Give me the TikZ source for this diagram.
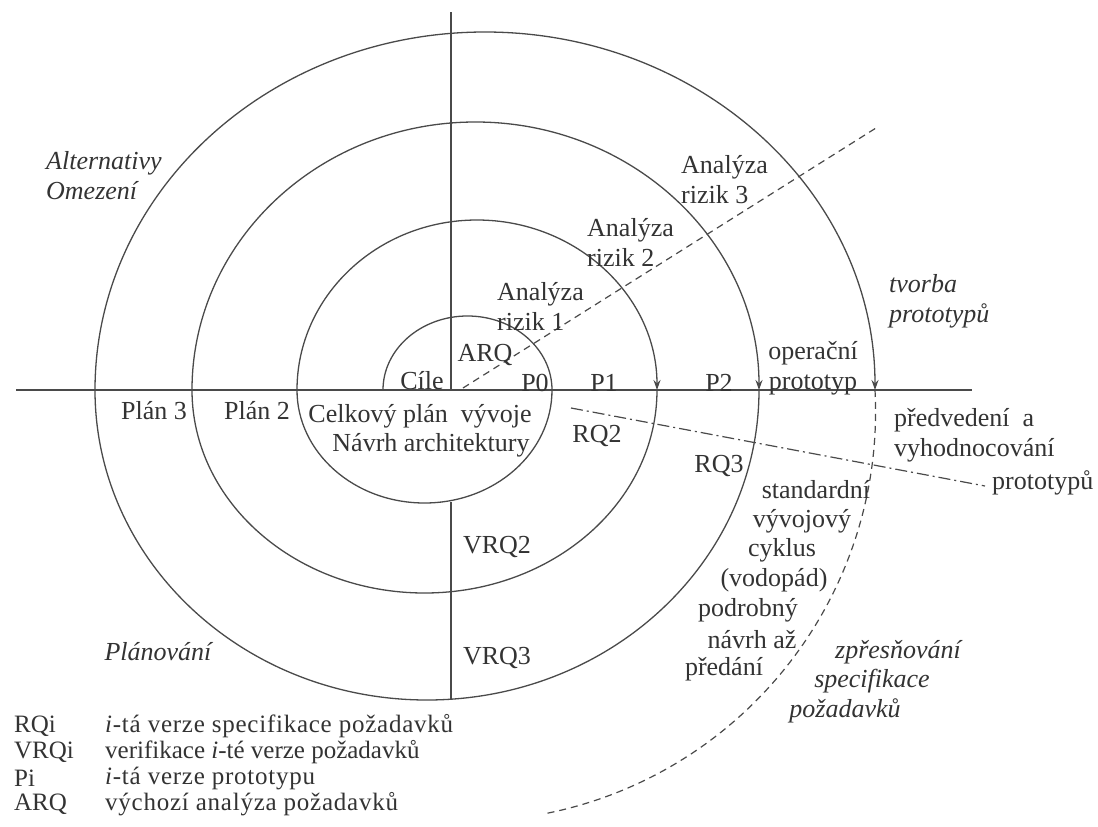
\documentclass[tikz,border=0pt]{standalone}
\usepackage{fontspec}
\setmainfont{Liberation Serif}
\usetikzlibrary{arrows.meta}
\definecolor{ink}{HTML}{333333}
\definecolor{ln}{HTML}{4A4A4A}
\begin{document}
\begin{tikzpicture}[x=1pt,y=1pt,
  lbl/.style={text=ink, font=\fontsize{26}{30}\selectfont, inner sep=0pt},
  ilbl/.style={text=ink, font=\fontsize{26}{30}\selectfont\itshape, inner sep=0pt},
  leg/.style={text=ink, font=\fontsize{25}{27}\selectfont, inner sep=0pt, anchor=west},
  curve/.style={draw=ln, line width=1.3pt},
  tip/.style={-{Stealth[length=10pt,width=7pt]}},
  dashline/.style={draw=ln, line width=1.2pt, dash pattern=on 7pt off 5pt},
  dotline/.style={draw=ln, line width=1.2pt, dash pattern=on 12pt off 4pt on 2pt off 4pt}
]
\useasboundingbox[fill=white] (0,0) rectangle (1098,-827);

% axes
\coordinate (hl) at (16,-390);
\coordinate (hr) at (972,-390);
\coordinate (vt) at (451,-12);
\coordinate (vo) at (451,-390);
\coordinate (vb1) at (451,-502);
\coordinate (vb2) at (451,-700);
\draw[curve] (hl) -- (hr);
\draw[curve] (vt) -- (vo);
\draw[curve] (vb1) -- (vb2);

% spiral
\draw[curve] (383,-390) arc[start angle=180, end angle=0, x radius=84.5, y radius=74];
\draw[curve] (552,-390) arc[start angle=0, end angle=-180, x radius=127.5, y radius=113];
\draw[curve,tip] (297,-390) arc[start angle=180, end angle=0, x radius=180, y radius=170];
\draw[curve] (657,-390) arc[start angle=0, end angle=-180, x radius=232.5, y radius=203];
\draw[curve,tip] (192,-390) arc[start angle=180, end angle=0, x radius=283.5, y radius=268];
\draw[curve] (759,-390) arc[start angle=0, end angle=-180, x radius=332, y radius=310];
\draw[curve,tip] (95,-390) arc[start angle=180, end angle=0, x radius=390, y radius=358];
\draw[dashline] (875,-390) arc[start angle=3, end angle=-78.5, radius=410];

% dashed radial lines
\coordinate (d1a) at (463,-388);
\coordinate (d1b) at (876,-128);
\draw[dashline] (d1a) -- (d1b);
\coordinate (d2a) at (571,-408);
\coordinate (d2b) at (985,-486);
\draw[dotline] (d2a) -- (d2b);

% labels
\node[ilbl, anchor=west, align=left] (alt) at (46,-176) {Alternativy\\Omezení};
\node[lbl, anchor=west, align=left] (ar3) at (681,-180) {Analýza\\rizik 3};
\node[lbl, anchor=west, align=left] (ar2) at (587,-242) {Analýza\\rizik 2};
\node[lbl, anchor=west, align=left] (ar1) at (497,-306) {Analýza\\rizik 1};
\node[lbl] (arq) at (485,-355) {ARQ};
\node[lbl] (cile) at (422,-381) {Cíle};
\node[lbl] (p0) at (535,-383) {P0};
\node[lbl] (p1) at (604,-383) {P1};
\node[lbl] (p2) at (719,-383) {P2};
\node[lbl, align=center] (op) at (813,-368) {operační\\prototyp};
\node[ilbl, anchor=west, align=left] (tv) at (889,-301) {tvorba\\prototypů};
\node[lbl] (pl3) at (154,-411) {Plán 3};
\node[lbl] (pl2) at (257,-411) {Plán 2};
\node[lbl] (cel) at (420,-416) {Celkový plán\ \ vývoje};
\node[lbl] (nav) at (431,-445) {Návrh architektury};
\node[lbl] (rq2) at (597,-436) {RQ2};
\node[lbl] (rq3) at (719,-466) {RQ3};
\node[lbl, anchor=west, align=left] (pred) at (894,-435) {předvedení\ \ a\\vyhodnocování};
\node[lbl, anchor=west] (protp) at (992,-483) {prototypů};
\node[lbl] (s1) at (816,-490) {standardní};
\node[lbl] (s2) at (802,-521) {vývojový};
\node[lbl] (s3) at (782,-550) {cyklus};
\node[lbl] (s4) at (774,-580) {(vodopád)};
\node[lbl] (s5) at (748,-610) {podrobný};
\node[lbl] (s6) at (752,-640) {návrh až};
\node[lbl] (s7) at (724,-669) {předání};
\node[ilbl] (z1) at (898,-652) {zpřesňování};
\node[ilbl] (z2) at (872,-681) {specifikace};
\node[ilbl] (z3) at (845,-711) {požadavků};
\node[lbl] (vrq2) at (497,-547) {VRQ2};
\node[lbl] (vrq3) at (497,-658) {VRQ3};
\node[ilbl] (plan) at (158,-652) {Plánování};

% legend
\node[leg] (k1) at (14,-726) {RQi};
\node[leg] (k2) at (14,-752) {VRQi};
\node[leg] (k3) at (14,-778) {Pi};
\node[leg] (k4) at (14,-804) {ARQ};
\node[leg] (t1) at (105,-726) {\addfontfeatures{LetterSpace=3}\textit{i}-tá verze specifikace požadavků};
\node[leg] (t2) at (105,-752) {verifikace \textit{i}-té verze požadavků};
\node[leg] (t3) at (105,-778) {\addfontfeatures{LetterSpace=3}\textit{i}-tá verze prototypu};
\node[leg] (t4) at (105,-804) {\addfontfeatures{LetterSpace=3}výchozí analýza požadavků};
\end{tikzpicture}
\end{document}
